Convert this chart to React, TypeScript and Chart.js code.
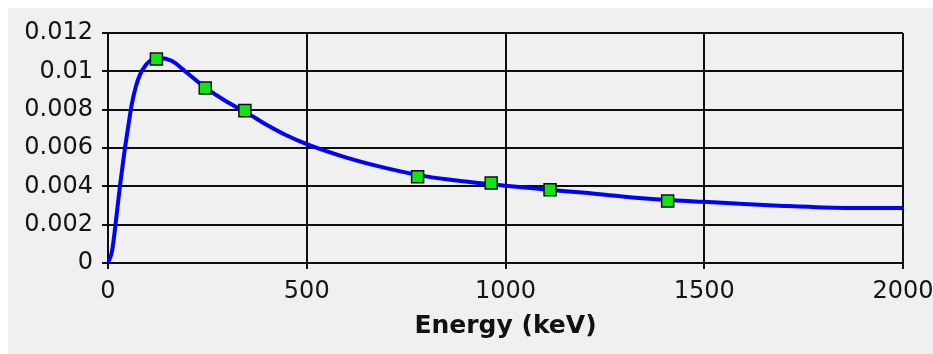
import React, { useEffect, useRef } from "react";
import { Chart, registerables } from "chart.js";

Chart.register(...registerables);

// Efficiency curve (Energy keV -> efficiency)
const curveEnergy = [0, 10, 20, 30, 40, 50, 60, 70, 80, 95, 110, 130, 160, 200, 245, 300, 344, 400, 450, 500, 600, 700, 800, 900, 1000, 1100, 1200, 1300, 1400, 1500, 1600, 1700, 1800, 1900, 2000];
const curveEff = [0, 0.0006, 0.0022, 0.004, 0.0056, 0.007, 0.0083, 0.0092, 0.0098, 0.01033, 0.0106, 0.0107, 0.01055, 0.0099, 0.00915, 0.0084, 0.0079, 0.0072, 0.00665, 0.0062, 0.0055, 0.00495, 0.00452, 0.00425, 0.00403, 0.00384, 0.00366, 0.00346, 0.0033, 0.00319, 0.00308, 0.00298, 0.0029, 0.00287, 0.00287];

// Measured points
const pointEnergy = [121.8, 244.7, 344.3, 778.9, 964.1, 1112.1, 1408.0];
const pointEff = [0.01064, 0.00913, 0.00795, 0.0045, 0.00417, 0.00382, 0.00323];

const yTickLabels = ["0", "0.002", "0.004", "0.006", "0.008", "0.01", "0.012"];
const xTickLabels = ["0", "500", "1000", "1500", "2000"];
const xTitle = "Energy (keV)";

export default function App() {
  const ref = useRef<HTMLCanvasElement>(null);

  useEffect(() => {
    if (!ref.current) return;
    const gridColor = "#0e0e0e";
    const chart = new Chart(ref.current, {
      type: "scatter",
      data: {
        datasets: [
          {
            label: "points",
            data: pointEnergy.map((x, i) => ({ x, y: pointEff[i] })),
            showLine: false,
            pointStyle: "rect",
            pointRadius: 8.5,
            pointBackgroundColor: "#0ee60e",
            pointBorderColor: "#111",
            pointBorderWidth: 1.5,
          },
          {
            label: "curve",
            data: curveEnergy.map((x, i) => ({ x, y: curveEff[i] })),
            showLine: true,
            borderColor: "#0000ff",
            borderWidth: 4,
            pointRadius: 0,
            cubicInterpolationMode: "monotone",
            fill: false,
          },
        ],
      },
      options: {
        animation: false,
        responsive: false,
        devicePixelRatio: 1,
        layout: { padding: { top: 25, right: 30, bottom: 0, left: 0 } },
        plugins: { legend: { display: false }, tooltip: { enabled: false } },
        scales: {
          x: {
            type: "linear",
            min: 0,
            max: 2000,
            afterFit: (s: any) => {
              s.height = 91;
              s.paddingLeft = 0;
              s.paddingRight = 0;
            },
            ticks: {
              stepSize: 500,
              padding: 8,
              color: "#151515",
              font: { family: "'DejaVu Sans', sans-serif", size: 24 },
              maxRotation: 0,
              autoSkip: false,
              callback: (_v: any, i: number) => xTickLabels[i],
            },
            grid: { color: gridColor, lineWidth: 2, tickLength: 6, tickColor: gridColor },
            border: { color: gridColor, width: 2 },
            title: {
              display: true,
              text: xTitle,
              color: "#111",
              font: { family: "'DejaVu Sans', sans-serif", size: 25, weight: "bold" },
              padding: { top: 0, bottom: 13 },
            },
          },
          y: {
            type: "linear",
            min: 0,
            max: 0.012,
            afterFit: (s: any) => {
              s.width = 100;
            },
            ticks: {
              stepSize: 0.002,
              padding: 9,
              color: "#151515",
              font: { family: "'DejaVu Sans', sans-serif", size: 24 },
              autoSkip: false,
              callback: (_v: any, i: number) => yTickLabels[i],
            },
            grid: { color: gridColor, lineWidth: 2, tickLength: 6, tickColor: gridColor },
            border: { color: gridColor, width: 2 },
          },
        },
      },
    });
    return () => chart.destroy();
  }, []);

  return (
    <div
      style={{
        position: "fixed",
        left: 8,
        top: 8,
        width: 925,
        height: 346,
        background: "#f0f0f0",
        overflow: "hidden",
      }}
    >
      <canvas ref={ref} width={925} height={346} style={{ display: "block" }} />
    </div>
  );
}
